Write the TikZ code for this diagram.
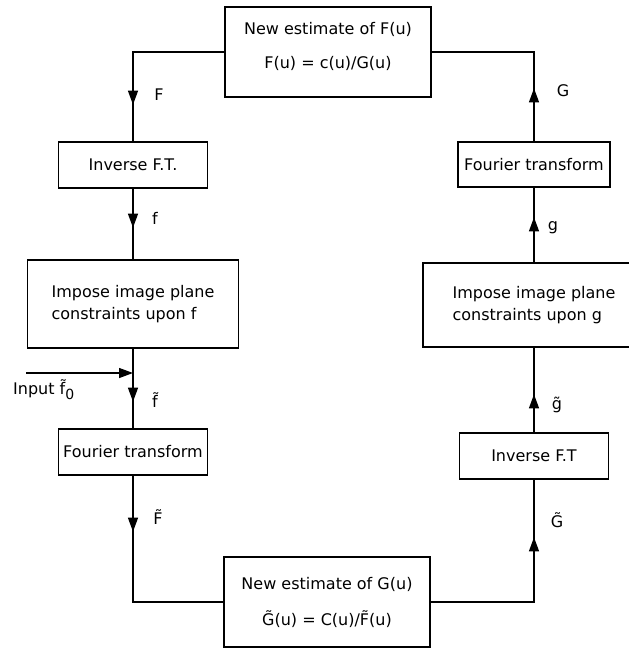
\documentclass[tikz,border=0pt]{standalone}
\usepackage{fontspec}
\setmainfont{DejaVu Sans}
\usetikzlibrary{positioning,arrows.meta,decorations.markings}
\tikzset{box node/.style={rectangle,draw,line width=1.3pt,inner sep=0pt,font=\fontsize{16}{22}\selectfont},
         label node/.style={inner sep=0pt,font=\fontsize{16}{18}\selectfont},
         flow line/.style={draw,line width=1.3pt},
         arrow at/.style={postaction={decorate},decoration={markings,mark=at position #1 with {\arrow{Triangle[length=14pt,width=10pt]}}}},
            }

\begin{document}
\begin{tikzpicture}[x=1pt,y=-1pt]
    \path[use as bounding box,clip] (0,0) rectangle (629,648);

    \node[box node,minimum width=206pt,minimum height=90pt,align=center] (Fnew) at (328,52) {New estimate of F(u)\\[12pt]F(u) = c(u)/G(u)\\[-8pt]\mbox{}};
    \node[box node,minimum width=206pt,minimum height=90pt,align=center] (Gnew) at (327,602) {New estimate of G(u)\\[14pt]\~G(u) = C(u)/\~F(u)};

    \node[box node,minimum width=149pt,minimum height=46pt] (invL) at (133,165) {Inverse F.T.};
    \node[box node,minimum width=211pt,minimum height=88pt,align=left] (impL) at (133,304) {Impose image plane\\constraints upon f};
    \node[box node,minimum width=149pt,minimum height=46pt] (ftL) at (133,452) {Fourier transform};

    \node[box node,minimum width=152pt,minimum height=45pt] (ftR) at (534,164.5) {Fourier transform};
    \node[box node,minimum width=222pt,minimum height=84pt,align=left] (impR) at (534,305) {Impose image plane\\constraints upon g};
    \node[box node,minimum width=149pt,minimum height=46pt] (invR) at (534,456) {Inverse F.T};

    % input
    \coordinate (inStart) at (26,373);
    \coordinate (inJoin) at (133,373);
    \draw[flow line,-{Triangle[length=14pt,width=10pt]}] (inStart) -- (inJoin);
    \node[label node,anchor=west] (inLbl) at (13,390) {Input \~f\raisebox{-5pt}{\fontsize{14}{15}\selectfont 0}};

    % left side, going down
    \path[flow line,arrow at=144pt] (Fnew.west) -| (invL.north);
    \path[flow line,arrow at=39pt] (invL.south) -- (impL.north);
    \path[flow line,arrow at=53pt] (impL.south) -- (ftL.north);
    \path[flow line,arrow at=56pt] (ftL.south) |- (Gnew.west);

    % right side, going up
    \path[flow line,arrow at=168pt] (Gnew.east) -| (invR.south);
    \path[flow line,arrow at=38pt] (invR.north) -- (impR.south);
    \path[flow line,arrow at=45pt] (impR.north) -- (ftR.south);
    \path[flow line,arrow at=53pt] (ftR.north) |- (Fnew.east);

    \node[label node] (lblF) at (159,95) {F};
    \node[label node] (lblf) at (155,218) {f};
    \node[label node] (lblft) at (155,400) {\~f};
    \node[label node] (lblFt) at (158,517) {\~F};
    \node[label node] (lblG) at (563,91) {G};
    \node[label node] (lblg) at (553,228) {g};
    \node[label node] (lblgt) at (557,405) {\~g};
    \node[label node] (lblGt) at (557,520) {\~G};

\end{tikzpicture}
\end{document}
